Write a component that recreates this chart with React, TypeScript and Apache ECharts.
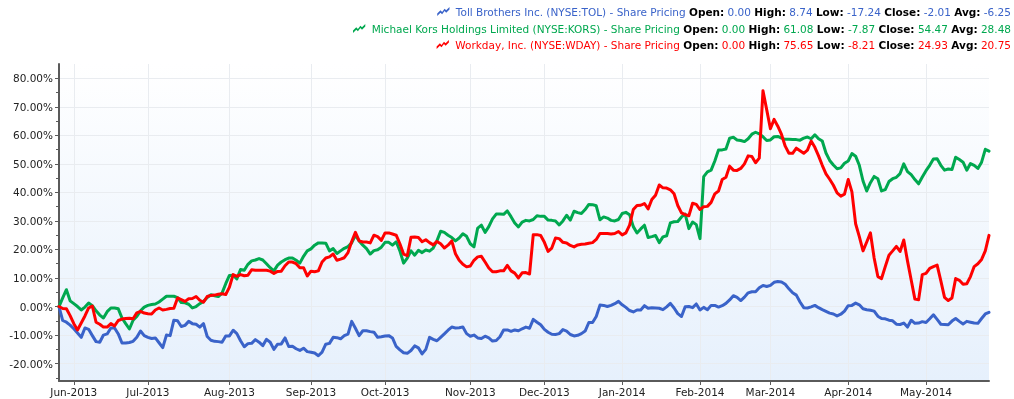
import React, { useEffect, useRef } from "react";
import * as echarts from "echarts";

const HOLIDAYS = ["2013-07-04", "2013-09-02", "2013-11-28", "2013-12-25", "2014-01-01", "2014-01-20", "2014-02-17", "2014-04-18"];
const START_DATE = "2013-05-28";
const DAY_COUNT = 252;
const MONTHS = ["Jan", "Feb", "Mar", "Apr", "May", "Jun", "Jul", "Aug", "Sep", "Oct", "Nov", "Dec"];

function buildCategories(): string[] {
  const out: string[] = [];
  const d = new Date(START_DATE + "T00:00:00Z");
  while (out.length < DAY_COUNT) {
    const wd = d.getUTCDay();
    const s = d.toISOString().slice(0, 10);
    if (wd !== 0 && wd !== 6 && HOLIDAYS.indexOf(s) < 0) out.push(s);
    d.setUTCDate(d.getUTCDate() + 1);
  }
  return out;
}
const categories = buildCategories();

const yTickValues = [-20, -10, 0, 10, 20, 30, 40, 50, 60, 70, 80];
const yMinorValues = [-25, -15, -5, 5, 15, 25, 35, 45, 55, 65, 75];

const seriesNames = [
  "Toll Brothers Inc. (NYSE:TOL) - Share Pricing",
  "Michael Kors Holdings Limited (NYSE:KORS) - Share Pricing",
  "Workday, Inc. (NYSE:WDAY) - Share Pricing",
];
const seriesColors = ["#3a63c9", "#00a84f", "#ff0000"];

// legend statistics: open, high, low, close, avg
const statOpen = ["0.00", "0.00", "0.00"];
const statHigh = ["8.74", "61.08", "75.65"];
const statLow = ["-17.24", "-7.87", "-8.21"];
const statClose = ["-2.01", "54.47", "24.93"];
const statAvg = ["-6.25", "28.48", "20.75"];

const tolValues = [
  0, -4.9, -5.5, -6.5, -7.8, -9.3, -10.8, -7.5, -8, -10.2,
  -12.3, -12.5, -10, -9.6, -7.5, -7.5, -9.6, -12.8, -12.8, -12.6,
  -12.2, -10.8, -8.6, -10.2, -10.8, -11.2, -11, -12.7, -14.4, -10,
  -10.2, -4.8, -5, -7, -6.6, -5.2, -6, -6.2, -7.2, -6,
  -10.5, -11.8, -12.2, -12.3, -12.5, -10.3, -10.3, -8.3, -9.5, -12,
  -14.1, -13, -12.9, -11.6, -12.5, -13.7, -11.5, -12.5, -15, -13.2,
  -13.1, -11, -14, -13.9, -14.8, -15.4, -14.6, -15.8, -16, -16.3,
  -17.24, -16, -13.2, -12.9, -10.8, -10.9, -11.3, -10.2, -9.7, -5.2,
  -7.6, -10.2, -8.5, -8.5, -8.8, -9, -10.8, -10.6, -10.3, -10.2,
  -11, -14, -15.2, -16.2, -16.4, -15.4, -13.8, -14.5, -16.6, -15,
  -10.8, -11.5, -12, -10.8, -9.6, -8.3, -7.2, -7.5, -7.4, -7.2,
  -9.5, -10.4, -10, -11, -11.2, -10.4, -11, -12.1, -11.9, -10.6,
  -8.2, -8.2, -8.7, -8.2, -8.5, -7.8, -7.2, -7.6, -4.5, -5.5,
  -6.4, -8, -9, -9.7, -9.8, -9.5, -8.1, -8.6, -9.8, -10.3,
  -10.1, -9.5, -8.6, -5.6, -5.6, -3.5, 0.5, 0.4, 0, 0.4,
  1.0, 1.8, 0.6, -0.3, -1.4, -1.9, -1.2, -1.2, 0.3, -0.6,
  -0.4, -0.5, -0.6, -1.1, -0.1, 1.1, -0.5, -2.5, -3.5, -0.1,
  0, -0.4, 0.9, -1.2, -0.3, -1.1, 0.4, 0.4, -0.2, 0.3,
  1.1, 2.3, 3.8, 3.2, 2.1, 3.3, 4.8, 5.2, 5.2, 6.6,
  7.4, 7, 7.4, 8.5, 8.74, 8.6, 7.8, 6.2, 4.8, 4.0,
  1.6, -0.4, -0.5, -0.1, 0.4, -0.4, -1.1, -1.7, -2.3, -2.6,
  -3.3, -2.7, -1.6, 0.3, 0.4, 1.2, 0.6, -0.8, -1.1, -1.3,
  -1.6, -3.4, -4.2, -4.3, -4.8, -5, -6.2, -6.3, -5.8, -7.2,
  -4.8, -5.9, -5.8, -5.3, -5.6, -4.3, -2.9, -4.5, -6.2, -6.3,
  -6.4, -5.1, -4.2, -5.2, -6.1, -5.2, -5.5, -5.8, -5.9, -4.2,
  -2.6, -2.01,
];

const korsValues = [
  0, 3, 5.9, 2, 1, 0, -1.2, -0.2, 1.2, 0.3,
  -1.5, -3, -4, -1.8, -0.5, -0.5, -0.8, -4, -6, -7.87,
  -4.8, -3.5, -1.5, -0.2, 0.4, 0.7, 0.9, 1.6, 2.6, 3.6,
  3.6, 3.6, 3.1, 1.4, 1.3, 0.8, -0.5, 0, 1, 1.8,
  3.2, 4.1, 3.8, 3.5, 4.7, 8, 10.9, 11, 9.7, 13,
  12.7, 14.8, 16, 16.3, 16.8, 16.3, 15, 13.6, 12.5, 14.5,
  15.6, 16.4, 17, 17, 16.2, 15.2, 17.6, 19.5, 20.2, 21.5,
  22.3, 22.3, 22.2, 19.5, 20.3, 18.6, 19.5, 20.4, 21, 22.3,
  25, 23, 21.5, 20.3, 18.4, 19.6, 19.9, 20.8, 22.5, 22.5,
  21.5, 22.7, 19.5, 15.2, 17, 19.5, 18, 19.7, 18.9, 19.8,
  19.4, 20.5, 23, 26.4, 26, 25, 24.2, 23, 24, 25.5,
  24.6, 22, 20.9, 27.5, 28.5, 26, 28, 30.7, 32.4, 32.4,
  32.3, 33.5, 31.5, 29.3, 27.9, 29.6, 30.2, 30, 30.5, 31.8,
  31.6, 31.6, 30.3, 30.2, 30, 28.6, 30, 32, 30.3, 33.4,
  32.9, 32.6, 34, 35.8, 35.7, 35.3, 30.4, 31.4, 31, 30.2,
  30, 30.5, 32.6, 33, 32.2, 28, 25.8, 27.2, 28.5, 24.2,
  24.5, 24.9, 22.4, 24.4, 24.8, 29.3, 29.7, 29.8, 31.4, 32.4,
  27.3, 29.6, 28.7, 23.8, 45.5, 47.2, 47.8, 51, 54.9, 54.9,
  55.2, 59, 59.3, 58.4, 58.2, 57.8, 58.8, 60.4, 61.08, 60.5,
  59.5, 58.2, 58.4, 59.5, 59.6, 59, 58.6, 58.6, 58.5, 58.5,
  58.3, 59, 59.4, 58.8, 60.2, 58.8, 58, 53.8, 51.2, 49.6,
  48.3, 48.6, 50.2, 51, 53.6, 52.7, 49.5, 44, 40.5, 43.4,
  45.6, 44.8, 40.5, 41, 43.8, 44.8, 45.3, 46.6, 50, 47.3,
  46.2, 44.5, 43, 45.4, 47.6, 49.5, 51.7, 51.8, 49.5, 47.8,
  48.2, 48, 52.3, 51.5, 50.6, 47.8, 50.1, 49.5, 48.4, 50.6,
  55.1, 54.47,
];

const wdayValues = [
  0, -0.7, -0.8, -3.2, -6, -8.21, -5.8, -3.3, -0.5, 0.2,
  -5.5, -6.2, -7.2, -7.2, -6, -6.8, -4.9, -4.4, -4.2, -4.1,
  -4.3, -2.2, -1.7, -2.3, -2.5, -2.6, -1.2, -0.5, -1.2, -1,
  -0.7, -0.6, 3, 2.4, 1.8, 2.7, 2.8, 3.5, 2.2, 1.5,
  3.5, 3.9, 4, 4.3, 4.5, 4.2, 6.8, 11.2, 10.6, 11.2,
  10.8, 11, 12.9, 12.7, 12.7, 12.7, 12.7, 12.4, 11.6, 12.3,
  12.4, 14.3, 15.6, 15.6, 15, 13.6, 13.6, 10.7, 12.4, 12.2,
  12.5, 15.6, 17, 17.4, 18.4, 16.2, 16.6, 17.1, 18.9, 22.8,
  26, 23, 22.6, 22.6, 22.3, 25, 24.5, 23.2, 25.8, 25.8,
  25.4, 25, 22, 18.4, 17.8, 24.3, 24.4, 24.2, 22.7, 23.4,
  22.4, 21.6, 22.8, 22, 20.5, 21.5, 23, 18.5, 16.2, 14.8,
  13.9, 14.2, 16.2, 17.4, 17.6, 15.6, 13.5, 12.2, 12.2, 12.5,
  12.5, 14.4, 12.5, 11.7, 10, 11.8, 11.9, 11.4, 25.2, 25.2,
  24.9, 22.5, 19.3, 20.5, 24, 23.8, 22.5, 22.3, 21.4, 20.9,
  21.6, 21.8, 21.9, 22.2, 22.4, 23.5, 25.6, 25.6, 25.6, 25.4,
  25.6, 26.3, 25.1, 25.8, 28.5, 34, 35.4, 35.5, 36.1, 34.2,
  37.5, 39, 42.6, 41.6, 41.5, 40.9, 39.5, 35.4, 32.8, 32.2,
  31.8, 36.2, 35.8, 34, 35, 35.1, 36.5, 39.5, 40.5, 44.5,
  45.3, 49.2, 47.8, 47.7, 48.4, 50, 52.8, 52.6, 50.4, 52,
  75.65, 69, 62.3, 65.6, 63.2, 60.3, 56.2, 53.7, 53.7, 55.5,
  54.6, 53.7, 54.8, 58, 55.8, 52.8, 49.5, 46.5, 44.6, 42.5,
  39.8, 38.7, 39.4, 44.5, 40.2, 29, 24.5, 19.5, 22.6, 25.8,
  17, 10.5, 9.8, 14, 18, 19.5, 21.1, 19.3, 23.3, 16,
  9.3, 2.6, 2.4, 11.2, 11.6, 13.4, 14, 14.5, 9, 3.2,
  2.1, 3, 9.8, 9.2, 7.8, 8, 10.5, 14, 15, 16.5,
  19.5, 24.93,
];

const seriesValues = [tolValues, korsValues, wdayValues];

const FONT = "'DejaVu Sans', sans-serif";
const FONT_SIZE = 10.5;
const LEGEND_ICON = "path://M0,8L4,4L6,6L9,2L11,4L15,0L15,3L11,7L9,5L6,9L4,7L0,11Z";
const legendTops = [6, 23, 39];

const isMonthStart = (i: number) =>
  i > 0 && !!categories[i] && categories[i].slice(0, 7) !== categories[i - 1].slice(0, 7);

export default function App() {
  const ref = useRef<HTMLDivElement>(null);
  useEffect(() => {
    if (!ref.current) return;
    const chart = echarts.init(ref.current, undefined, { renderer: "svg" });
    const legends = seriesNames.map((name, k) => ({
      data: [name],
      right: 3,
      top: legendTops[k],
      padding: 0,
      itemWidth: 15,
      itemHeight: 9,
      icon: LEGEND_ICON,
      selectedMode: false,
      itemStyle: { borderWidth: 0 },
      formatter: () =>
        `{n|${name}} {b|Open:} {v|${statOpen[k]}} {b|High:} {v|${statHigh[k]}} {b|Low:} {v|${statLow[k]}} {b|Close:} {v|${statClose[k]}} {b|Avg:} {v|${statAvg[k]}}`,
      textStyle: {
        fontFamily: FONT,
        fontSize: FONT_SIZE,
        color: "#000",
        rich: {
          n: { color: seriesColors[k], fontFamily: FONT, fontSize: FONT_SIZE },
          v: { color: seriesColors[k], fontFamily: FONT, fontSize: FONT_SIZE },
          b: { color: "#000", fontFamily: FONT, fontSize: FONT_SIZE, fontWeight: "bold" },
        },
      },
    }));
    chart.setOption({
      animation: false,
      legend: legends,
      grid: {
        left: 59,
        right: 25,
        top: 64,
        bottom: 18,
        show: true,
        borderWidth: 0,
        backgroundColor: new echarts.graphic.LinearGradient(0, 0, 0, 1, [
          { offset: 0, color: "#ffffff" },
          { offset: 1, color: "#e6f0fc" },
        ]),
      },
      xAxis: {
        type: "category",
        data: categories,
        boundaryGap: false,
        axisLine: { onZero: false, lineStyle: { color: "#5a5a5a", width: 2 } },
        axisTick: { interval: (i: number) => isMonthStart(i), length: 4, lineStyle: { color: "#5a5a5a" } },
        axisLabel: {
          interval: (i: number) => isMonthStart(i),
          formatter: (v: string) => `${MONTHS[parseInt(v.slice(5, 7), 10) - 1]}-${v.slice(0, 4)}`,
          color: "#222",
          fontFamily: FONT,
          fontSize: FONT_SIZE,
          margin: 5,
        },
        splitLine: { show: true, interval: (i: number) => isMonthStart(i), lineStyle: { color: "#e9ecf0", width: 1 } },
      },
      yAxis: [
        {
          type: "value",
          min: -26.1,
          max: 85,
          axisLine: { show: true, lineStyle: { color: "#5a5a5a", width: 2 } },
          axisTick: { show: true, customValues: yTickValues, length: 4, lineStyle: { color: "#5a5a5a" } },
          axisLabel: {
            customValues: yTickValues,
            formatter: (v: number) => `${v.toFixed(2)}%`,
            color: "#222",
            fontFamily: FONT,
            fontSize: FONT_SIZE,
            margin: 6,
          },
          splitLine: { show: true, lineStyle: { color: "#e9ecf0", width: 1 } },
        },
        {
          type: "value",
          min: -26.1,
          max: 85,
          position: "left",
          axisLine: { show: false },
          axisTick: { show: true, customValues: yMinorValues, length: 3, lineStyle: { color: "#5a5a5a" } },
          axisLabel: { show: false },
          splitLine: { show: false },
        },
      ],
      series: seriesNames.map((name, k) => ({
        type: "line",
        name,
        data: seriesValues[k],
        yAxisIndex: 0,
        showSymbol: false,
        symbol: "none",
        lineStyle: { width: 3, color: seriesColors[k], join: "round", cap: "round" },
        itemStyle: { color: seriesColors[k] },
        emphasis: { disabled: true },
      })),
    });
    return () => chart.dispose();
  }, []);
  return (
    <div
      ref={ref}
      style={{ position: "fixed", left: 0, top: 0, width: 1014, height: 399 }}
    />
  );
}
